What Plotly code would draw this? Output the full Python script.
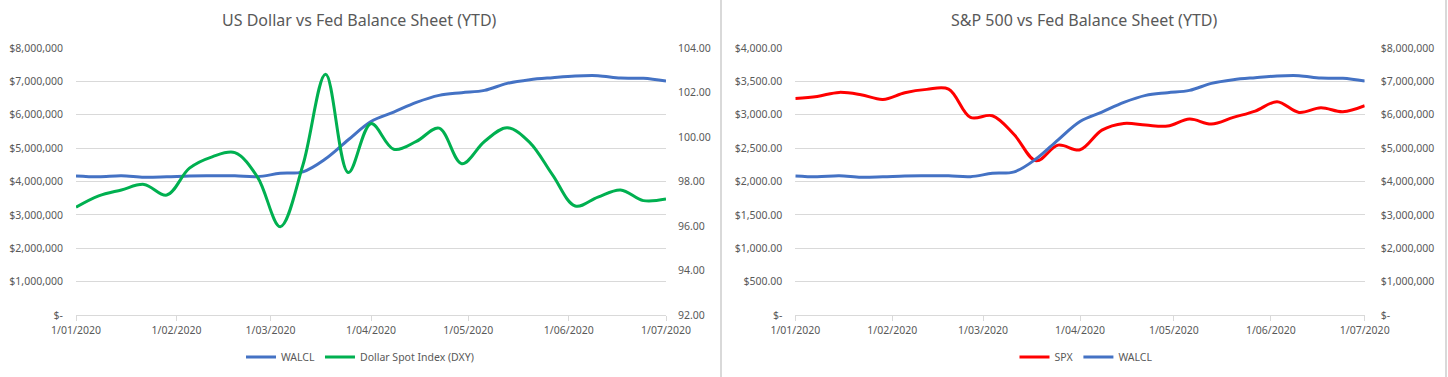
import plotly.graph_objects as go

W, H = 1448, 377

dates = ["2020-01-01", "2020-01-08", "2020-01-15", "2020-01-22", "2020-01-29",
         "2020-02-05", "2020-02-12", "2020-02-19", "2020-02-26",
         "2020-03-04", "2020-03-11", "2020-03-18", "2020-03-25",
         "2020-04-01", "2020-04-08", "2020-04-15", "2020-04-22", "2020-04-29",
         "2020-05-06", "2020-05-13", "2020-05-20", "2020-05-27",
         "2020-06-03", "2020-06-10", "2020-06-17", "2020-06-24", "2020-07-01"]

walcl = [4165000, 4140000, 4170000, 4125000, 4140000,
         4165000, 4170000, 4170000, 4145000,
         4245000, 4290000, 4680000, 5250000,
         5800000, 6080000, 6370000, 6580000, 6660000,
         6730000, 6940000, 7050000, 7110000,
         7160000, 7170000, 7100000, 7090000, 7010000]

dxy = [96.84, 97.35, 97.62, 97.87, 97.39,
       98.60, 99.11, 99.30, 98.20,
       95.97, 98.74, 102.82, 98.40,
       100.60, 99.45, 99.80, 100.40, 98.80,
       99.80, 100.42, 99.75, 98.30,
       96.90, 97.30, 97.62, 97.14, 97.21]

spx = [3245, 3275, 3335, 3300, 3230,
       3330, 3380, 3385, 2960,
       2985, 2700, 2310, 2545,
       2475, 2770, 2870, 2845, 2830,
       2935, 2860, 2960, 3055,
       3195, 3035, 3105, 3045, 3135]

month_ticks = ["2020-01-01", "2020-02-01", "2020-03-01", "2020-04-01",
               "2020-05-01", "2020-06-01", "2020-07-01"]
month_labels = ["1/01/2020", "1/02/2020", "1/03/2020", "1/04/2020",
                "1/05/2020", "1/06/2020", "1/07/2020"]

walcl_ticks = [0, 1e6, 2e6, 3e6, 4e6, 5e6, 6e6, 7e6, 8e6]
walcl_labels = ["$-", "$1,000,000", "$2,000,000", "$3,000,000", "$4,000,000",
                "$5,000,000", "$6,000,000", "$7,000,000", "$8,000,000"]
dxy_ticks = [92, 94, 96, 98, 100, 102, 104]
dxy_labels = ["92.00", "94.00", "96.00", "98.00", "100.00", "102.00", "104.00"]
spx_ticks = [0, 500, 1000, 1500, 2000, 2500, 3000, 3500, 4000]
spx_labels = ["$-", "$500.00", "$1,000.00", "$1,500.00", "$2,000.00",
              "$2,500.00", "$3,000.00", "$3,500.00", "$4,000.00"]

BLUE = "#4472C4"
GREEN = "#00B050"
RED = "#FF0000"
GRID = "#D9D9D9"
TXT = "#595959"
FONT = "Noto Sans"

fig = go.Figure()
fig.add_trace(go.Scatter(x=dates, y=walcl, name="WALCL", mode="lines",
                         line=dict(color=BLUE, width=3, shape="spline", smoothing=1),
                         xaxis="x", yaxis="y", legend="legend"))
fig.add_trace(go.Scatter(x=dates, y=dxy, name="Dollar Spot Index (DXY)", mode="lines",
                         line=dict(color=GREEN, width=3, shape="spline", smoothing=1),
                         xaxis="x", yaxis="y2", legend="legend"))
fig.add_trace(go.Scatter(x=dates, y=spx, name="SPX", mode="lines",
                         line=dict(color=RED, width=3, shape="spline", smoothing=1),
                         xaxis="x2", yaxis="y3", legend="legend2"))
fig.add_trace(go.Scatter(x=dates, y=walcl, name="WALCL", mode="lines",
                         line=dict(color=BLUE, width=3, shape="spline", smoothing=1),
                         xaxis="x2", yaxis="y4", legend="legend2"))

def px(v):
    return v / W

def py(v):
    return (H - v) / H

ydom = [py(315), py(48)]
tickfont = dict(family=FONT, size=10.5, color=TXT)

xcommon = dict(type="date", range=["2020-01-01", "2020-07-01"], tickvals=month_ticks,
               ticktext=month_labels, showgrid=False, showline=True, linecolor=GRID,
               linewidth=1, ticks="outside", ticklen=5, tickcolor=GRID,
               tickfont=tickfont, zeroline=False, automargin=False)

ycommon = dict(zeroline=False, showline=False, tickfont=tickfont, automargin=False)

fig.update_layout(
    width=W, height=H,
    margin=dict(l=0, r=0, t=0, b=0, pad=0, autoexpand=False),
    paper_bgcolor="white", plot_bgcolor="white",
    font=dict(family=FONT, color=TXT),
    xaxis=dict(domain=[px(76), px(666)], anchor="y", **xcommon),
    xaxis2=dict(domain=[px(795.3), px(1364.7)], anchor="y3", **xcommon),
    yaxis=dict(domain=ydom, anchor="x", range=[0, 8e6], tickvals=walcl_ticks,
               ticktext=walcl_labels, showgrid=True, gridcolor=GRID, gridwidth=1,
               ticklabelstandoff=12, **ycommon),
    yaxis2=dict(domain=ydom, anchor="x", overlaying="y", side="right", range=[92, 104],
                tickvals=dxy_ticks, ticktext=dxy_labels, showgrid=False,
                ticklabelstandoff=11, **ycommon),
    yaxis3=dict(domain=ydom, anchor="x2", range=[0, 4000], tickvals=spx_ticks,
                ticktext=spx_labels, showgrid=True, gridcolor=GRID, gridwidth=1,
                ticklabelstandoff=12, **ycommon),
    yaxis4=dict(domain=ydom, anchor="x2", overlaying="y3", side="right", range=[0, 8e6],
                tickvals=walcl_ticks, ticktext=walcl_labels, showgrid=False,
                ticklabelstandoff=15, **ycommon),
    legend=dict(orientation="h", x=px(360), xanchor="center", y=py(357), yanchor="middle",
                font=dict(family=FONT, size=10.5, color=TXT), bgcolor="rgba(0,0,0,0)",
                itemwidth=30),
    legend2=dict(orientation="h", x=px(1086), xanchor="center", y=py(357), yanchor="middle",
                 font=dict(family=FONT, size=10.5, color=TXT), bgcolor="rgba(0,0,0,0)",
                 itemwidth=30),
    showlegend=True,
    annotations=[
        dict(text="US Dollar vs Fed Balance Sheet (YTD)", x=px(359), y=py(20),
             xref="paper", yref="paper", xanchor="center", yanchor="middle",
             showarrow=False, font=dict(family=FONT, size=16, color=TXT)),
        dict(text="S&P 500 vs Fed Balance Sheet (YTD)", x=px(1084), y=py(20),
             xref="paper", yref="paper", xanchor="center", yanchor="middle",
             showarrow=False, font=dict(family=FONT, size=16, color=TXT)),
    ],
    shapes=[
        dict(type="line", xref="paper", yref="paper", x0=px(721), x1=px(721), y0=0, y1=1,
             line=dict(color=GRID, width=2)),
        dict(type="line", xref="paper", yref="paper", x0=px(1446), x1=px(1446), y0=0, y1=1,
             line=dict(color=GRID, width=2)),
    ],
)

fig.write_html(
    "out.html",
    config={"displayModeBar": False},
    post_script="document.body.style.margin='0px';document.body.style.padding='0px';document.body.style.overflow='hidden';",
)
